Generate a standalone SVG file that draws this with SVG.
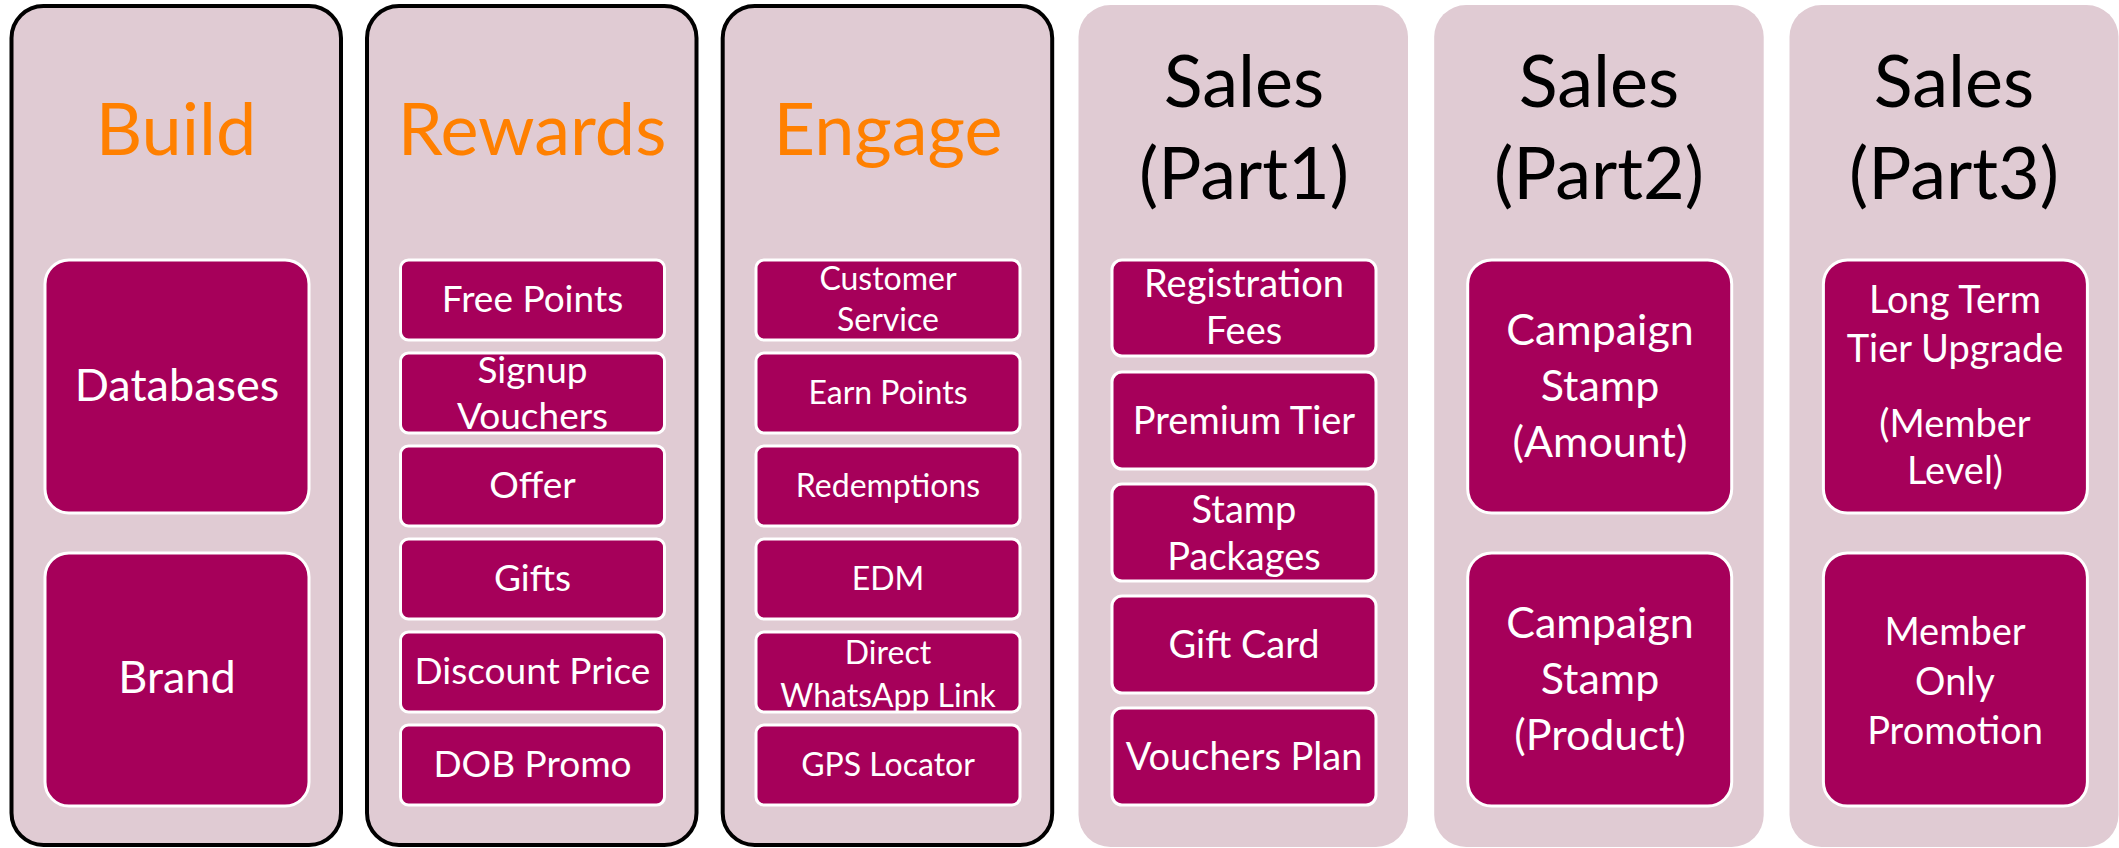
<svg xmlns="http://www.w3.org/2000/svg" width="2119" height="848" viewBox="0 0 2119 848">
<style>
.col{fill:#E0CBD3}
.colS{fill:#E0CBD3;stroke:#000;stroke-width:4}
.box{fill:#A6005A;stroke:#FFFFFF;stroke-width:3}
text{font-family:Lato,"Liberation Sans",sans-serif;text-anchor:middle}
.t{font-size:72px}
.o{fill:#FF8000}
.k{fill:#000}
.w{fill:#FFFFFF}
.f45{font-size:45px}
.f37{font-size:37px}
.f32{font-size:32px}
.f38{font-size:38px}
.f43{font-size:43px}
</style>
<rect width="2119" height="848" fill="#FFFFFF"/>
<g id="connectors"/>
<g id="build">
<rect class="colS" x="11.5" y="6" width="329.5" height="839" rx="32"/>
<text class="t o" x="176" y="155">Build</text>
<g id="databases"><rect class="box" x="45" y="260" width="264" height="253" rx="24"/><text class="f45 w" x="177" y="401">Databases</text></g>
<g id="brand"><rect class="box" x="45" y="553" width="264" height="253" rx="24"/><text class="f45 w" x="177" y="693">Brand</text></g>
</g>
<g id="rewards">
<rect class="colS" x="367" y="6" width="329.5" height="839" rx="32"/>
<text class="t o" x="532" y="155">Rewards</text>
<g id="free-points"><rect class="box" x="400.5" y="260" width="264" height="80" rx="8"/><text class="f37 w" x="532.5" y="312">Free Points</text></g>
<g id="signup-vouchers"><rect class="box" x="400.5" y="353" width="264" height="80" rx="8"/><text class="f37 w" x="532.5" y="383">Signup</text><text class="f37 w" x="532.5" y="429">Vouchers</text></g>
<g id="offer"><rect class="box" x="400.5" y="446" width="264" height="80" rx="8"/><text class="f37 w" x="532.5" y="498">Offer</text></g>
<g id="gifts"><rect class="box" x="400.5" y="539" width="264" height="80" rx="8"/><text class="f37 w" x="532.5" y="591">Gifts</text></g>
<g id="discount-price"><rect class="box" x="400.5" y="632" width="264" height="80" rx="8"/><text class="f37 w" x="532.5" y="684">Discount Price</text></g>
<g id="dob-promo"><rect class="box" x="400.5" y="725" width="264" height="80" rx="8"/><text class="f37 w" x="532.5" y="777">DOB Promo</text></g>
</g>
<g id="engage">
<rect class="colS" x="722.7" y="6" width="329.5" height="839" rx="32"/>
<text class="t o" x="888" y="155">Engage</text>
<g id="customer-service"><rect class="box" x="756" y="260" width="264" height="80" rx="8"/><text class="f32 w" x="888" y="290">Customer</text><text class="f32 w" x="888" y="331">Service</text></g>
<g id="earn-points"><rect class="box" x="756" y="353" width="264" height="80" rx="8"/><text class="f32 w" x="888" y="404">Earn Points</text></g>
<g id="redemptions"><rect class="box" x="756" y="446" width="264" height="80" rx="8"/><text class="f32 w" x="888" y="497">Redemptions</text></g>
<g id="edm"><rect class="box" x="756" y="539" width="264" height="80" rx="8"/><text class="f32 w" x="888" y="590">EDM</text></g>
<g id="whatsapp"><rect class="box" x="756" y="632" width="264" height="80" rx="8"/><text class="f32 w" x="888" y="664">Direct</text><text class="f32 w" x="888" y="707">WhatsApp Link</text></g>
<g id="gps"><rect class="box" x="756" y="725" width="264" height="80" rx="8"/><text class="f32 w" x="888" y="776">GPS Locator</text></g>
</g>
<g id="sales1">
<rect class="col" x="1078.5" y="5" width="329.5" height="842" rx="32"/>
<text class="t k" x="1244" y="107">Sales</text>
<text class="t k" x="1244" y="199">(Part1)</text>
<g id="registration"><rect class="box" x="1112" y="260" width="264" height="96" rx="10"/><text class="f38 w" x="1244" y="297">Registration</text><text class="f38 w" x="1244" y="344">Fees</text></g>
<g id="premium"><rect class="box" x="1112" y="372" width="264" height="97" rx="10"/><text class="f38 w" x="1244" y="434">Premium Tier</text></g>
<g id="stamp-packages"><rect class="box" x="1112" y="484" width="264" height="97" rx="10"/><text class="f38 w" x="1244" y="523">Stamp</text><text class="f38 w" x="1244" y="570">Packages</text></g>
<g id="gift-card"><rect class="box" x="1112" y="596" width="264" height="97" rx="10"/><text class="f38 w" x="1244" y="658">Gift Card</text></g>
<g id="vouchers-plan"><rect class="box" x="1112" y="708" width="264" height="97" rx="10"/><text class="f38 w" x="1244" y="770">Vouchers Plan</text></g>
</g>
<g id="sales2">
<rect class="col" x="1434.2" y="5" width="329.5" height="842" rx="32"/>
<text class="t k" x="1599" y="107">Sales</text>
<text class="t k" x="1599" y="199">(Part2)</text>
<g id="stamp-amount"><rect class="box" x="1467.7" y="260" width="264" height="253" rx="24"/><text class="f43 w" x="1600" y="345">Campaign</text><text class="f43 w" x="1600" y="401">Stamp</text><text class="f43 w" x="1600" y="457">(Amount)</text></g>
<g id="stamp-product"><rect class="box" x="1467.7" y="553" width="264" height="253" rx="24"/><text class="f43 w" x="1600" y="638">Campaign</text><text class="f43 w" x="1600" y="694">Stamp</text><text class="f43 w" x="1600" y="750">(Product)</text></g>
</g>
<g id="sales3">
<rect class="col" x="1789.5" y="5" width="329" height="842" rx="32"/>
<text class="t k" x="1954" y="107">Sales</text>
<text class="t k" x="1954" y="199">(Part3)</text>
<g id="tier-upgrade"><rect class="box" x="1823.4" y="260" width="264" height="253" rx="24"/><text class="f38 w" x="1955" y="313">Long Term</text><text class="f38 w" x="1955" y="362">Tier Upgrade</text><text class="f38 w" x="1955" y="437">(Member</text><text class="f38 w" x="1955" y="484">Level)</text></g>
<g id="member-only"><rect class="box" x="1823.4" y="553" width="264" height="253" rx="24"/><text class="f38 w" x="1955" y="645">Member</text><text class="f38 w" x="1955" y="695">Only</text><text class="f38 w" x="1955" y="744">Promotion</text></g>
</g>
</svg>
